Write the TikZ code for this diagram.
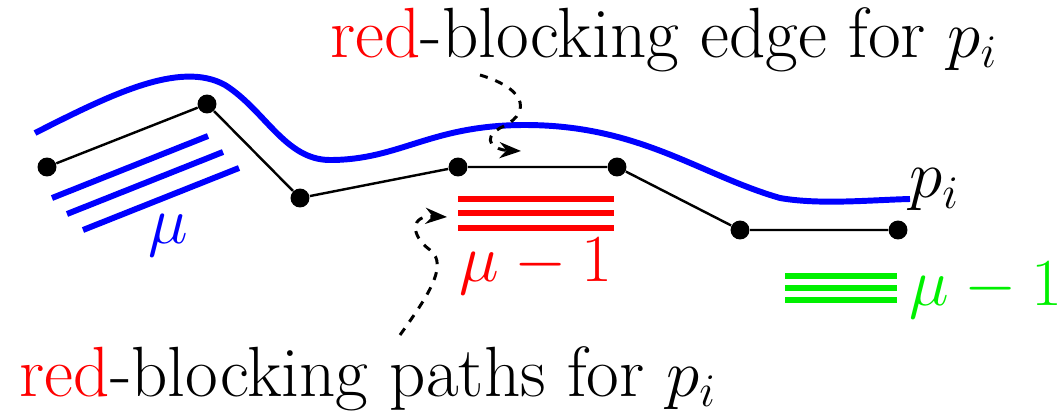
\documentclass[tikz,border=0pt]{standalone}
\usepackage{amsmath}
\usepackage{xcolor}
\usetikzlibrary{arrows.meta,calc}

\definecolor{pblue}{RGB}{0,0,255}
\definecolor{pred}{RGB}{255,0,0}
\definecolor{pgreen}{RGB}{0,240,0}

\tikzset{
  vtx/.style={circle, fill=black, inner sep=0pt, minimum size=7pt},
  pathline/.style={line width=0.9pt},
  bundle/.style={line width=2.2pt},
  hint/.style={->, >=Stealth, dashed, line width=1.1pt, dash pattern=on 3pt off 3pt},
  lbl/.style={font=\fontsize{26.3}{30}\selectfont, inner sep=1pt}
}

\begin{document}
\begin{tikzpicture}[x=0.013cm, y=-0.013cm]
\useasboundingbox (0,0) rectangle (1062,415);

% Path vertices
\node[vtx] (v1) at (47,167) {};
\node[vtx] (v2) at (207,104) {};
\node[vtx] (v3) at (300,198) {};
\node[vtx] (v4) at (458,167) {};
\node[vtx] (v5) at (617,167) {};
\node[vtx] (v6) at (740,230) {};
\node[vtx] (v7) at (898,230) {};
\draw[pathline] (v1) -- (v2) -- (v3) -- (v4) -- (v5) -- (v6) -- (v7);

% Blue curve p_i
\draw[bundle, pblue] (35,133) .. controls (110,95) and (180,60) .. (225,85)
  .. controls (265,110) and (285,160) .. (330,160)
  .. controls (400,160) and (430,125) .. (525,125)
  .. controls (640,125) and (700,175) .. (780,198)
  .. controls (820,205) and (870,200) .. (910,199);
\node[lbl, anchor=west] (pi) at (906,190) {$p_i$};

% Blue bundle
\foreach \dx/\dy in {0/0,15/16,31/32}
  \draw[bundle, pblue] ($(52,198)+(\dx,\dy)$) -- ($(208,136)+(\dx,\dy)$);
\node[lbl, text=pblue] (mu) at (168,236) {$\mu$};

% Red bundle
\foreach \y in {199,213,228}
  \draw[bundle, pred] (458,\y) -- (614,\y);
\node[lbl, text=pred] (redmu) at (536,266) {$\mu-1$};

% Green bundle
\foreach \y in {276,288,300}
  \draw[bundle, pgreen] (785,\y) -- (897,\y);
\node[lbl, text=pgreen] (greenmu) at (986,290) {$\mu-1$};

% Labels
\node[lbl] (edgelbl) at (664,40) {\textcolor{pred}{red}-blocking edge for $p_i$};
\node[lbl] (pathslbl) at (368,379) {\textcolor{pred}{red}-blocking paths for $p_i$};

% Hints
\coordinate (e1) at (480,75);
\coordinate (e2) at (521,151);
\draw[hint] (e1) .. controls (530,90) and (530,115) .. (500,128)
  .. controls (480,140) and (495,150) .. (e2);
\coordinate (p1) at (400,335);
\coordinate (p2) at (447,217);
\draw[hint] (p1) .. controls (425,300) and (450,265) .. (430,250)
  .. controls (410,235) and (410,215) .. (p2);
\end{tikzpicture}
\end{document}
